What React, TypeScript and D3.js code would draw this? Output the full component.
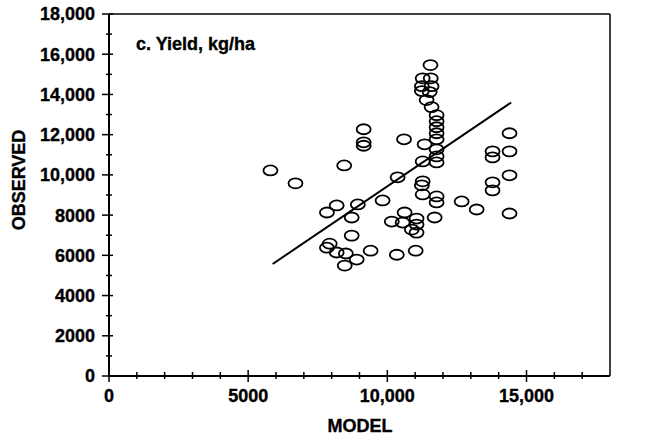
import React from "react";
import * as d3 from "d3";

const modelValues = [
  5800, 6700, 8450, 9150, 9150, 9150, 10600, 11550, 11270, 11560,
  11240, 11590, 11240, 11520, 11410, 11590, 11770, 11770, 11770, 11770,
  11770, 11340, 11770, 11770, 11770, 11270, 10370, 8940, 9830, 8180,
  7830, 8720, 11270, 11240, 11270, 11770, 11770, 12670, 13210, 11700,
  13780, 13780, 13780, 13780, 14390, 14390, 14390, 14390, 10620, 10160,
  10550, 11050, 11050, 10880, 11050, 8720, 7930, 7830, 8180, 8510,
  8900, 8470, 9400, 10340, 11020,
];
const observedValues = [
  10220, 9580, 10470, 12270, 11620, 11450, 11770, 15460, 14800, 14800,
  14410, 14410, 14170, 14120, 13720, 13370, 12970, 12670, 12370, 12070,
  11770, 11520, 11270, 10920, 10620, 10670, 9880, 8530, 8730, 8480,
  8130, 7880, 9680, 9480, 9030, 8930, 8630, 8680, 8280, 7880,
  11170, 10870, 9630, 9230, 12070, 11170, 9980, 8080, 8130, 7680,
  7630, 7830, 7530, 7280, 7130, 6980, 6580, 6380, 6140, 6090,
  5790, 5490, 6230, 6030, 6230,
];
const fitModel = [5880, 14450];
const fitObserved = [5570, 13600];

const yTicks = [0, 2000, 4000, 6000, 8000, 10000, 12000, 14000, 16000, 18000];
const yMinorTicks = [1000, 3000, 5000, 7000, 9000, 11000, 13000, 15000, 17000];
const xTicks = [0, 5000, 10000, 15000];
const xMinorTicks = [1000, 2000, 3000, 4000, 6000, 7000, 8000, 9000, 11000, 12000, 13000, 14000, 16000, 17000];

const fmt = (v: number) => (v >= 10000 ? d3.format(",")(v) : String(v));

export default function App() {
  const W = 648;
  const H = 439;
  const x = d3.scaleLinear().domain([0, 18000]).range([109, 610]);
  const y = d3.scaleLinear().domain([0, 18000]).range([376, 14]);
  const font = "'Liberation Sans', Arial, Helvetica, sans-serif";
  const line = d3
    .line<number>()
    .x((_, i) => x(fitModel[i]))
    .y((d) => y(d));
  const textStyle = { fill: "#000", stroke: "#000", strokeWidth: 0.35 };

  return (
    <svg
      width={W}
      height={H}
      style={{ position: "absolute", left: 0, top: 0, background: "#fff" }}
      fontFamily={font}
      fontWeight="bold"
    >
      <rect x={0} y={0} width={W} height={H} fill="#fff" />
      {/* frame */}
      <line x1={x(0)} y1={y(18000)} x2={x(18000)} y2={y(18000)} stroke="#000" strokeWidth={1.5} />
      <line x1={x(18000)} y1={y(18000)} x2={x(18000)} y2={y(0)} stroke="#000" strokeWidth={1.5} />
      <line x1={x(0)} y1={y(0)} x2={x(18000)} y2={y(0)} stroke="#000" strokeWidth={2} />
      <line x1={x(0)} y1={y(0)} x2={x(0)} y2={y(18000)} stroke="#000" strokeWidth={2} />
      {/* y ticks */}
      {yTicks.map((t) => (
        <g key={"yt" + t}>
          <line x1={x(0) - 7} x2={x(0) + 4} y1={y(t)} y2={y(t)} stroke="#000" strokeWidth={1.5} />
          <text x={95} y={y(t)} dy="0.36em" textAnchor="end" fontSize={18} style={textStyle}>
            {fmt(t)}
          </text>
        </g>
      ))}
      {yMinorTicks.map((t) => (
        <line key={"ym" + t} x1={x(0) - 3} x2={x(0) + 3} y1={y(t)} y2={y(t)} stroke="#000" strokeWidth={1.5} />
      ))}
      {/* x ticks */}
      {xTicks.map((t) => (
        <g key={"xt" + t}>
          <line x1={x(t)} x2={x(t)} y1={y(0) - 6} y2={y(0) + 6} stroke="#000" strokeWidth={1.5} />
          <text x={x(t)} y={402} textAnchor="middle" fontSize={18} style={textStyle}>
            {fmt(t)}
          </text>
        </g>
      ))}
      {xMinorTicks.map((t) => (
        <line key={"xm" + t} x1={x(t)} x2={x(t)} y1={y(0) - 4} y2={y(0) + 3} stroke="#000" strokeWidth={1.5} />
      ))}
      {/* axis titles */}
      <text x={360} y={432} textAnchor="middle" fontSize={18} style={textStyle}>
        MODEL
      </text>
      <text
        transform={`translate(25, ${(y(0) + y(18000)) / 2 - 15}) rotate(-90)`}
        textAnchor="middle"
        fontSize={18}
        style={textStyle}
      >
        OBSERVED
      </text>
      <text x={136} y={50} fontSize={18} style={textStyle}>
        c. Yield, kg/ha
      </text>
      {/* regression line */}
      <path d={line(fitObserved) || ""} fill="none" stroke="#000" strokeWidth={2} />
      {/* points */}
      {modelValues.map((m, i) => (
        <ellipse
          key={"p" + i}
          cx={x(m)}
          cy={y(observedValues[i])}
          rx={7}
          ry={5}
          fill="none"
          stroke="#000"
          strokeWidth={1.8}
        />
      ))}
    </svg>
  );
}
